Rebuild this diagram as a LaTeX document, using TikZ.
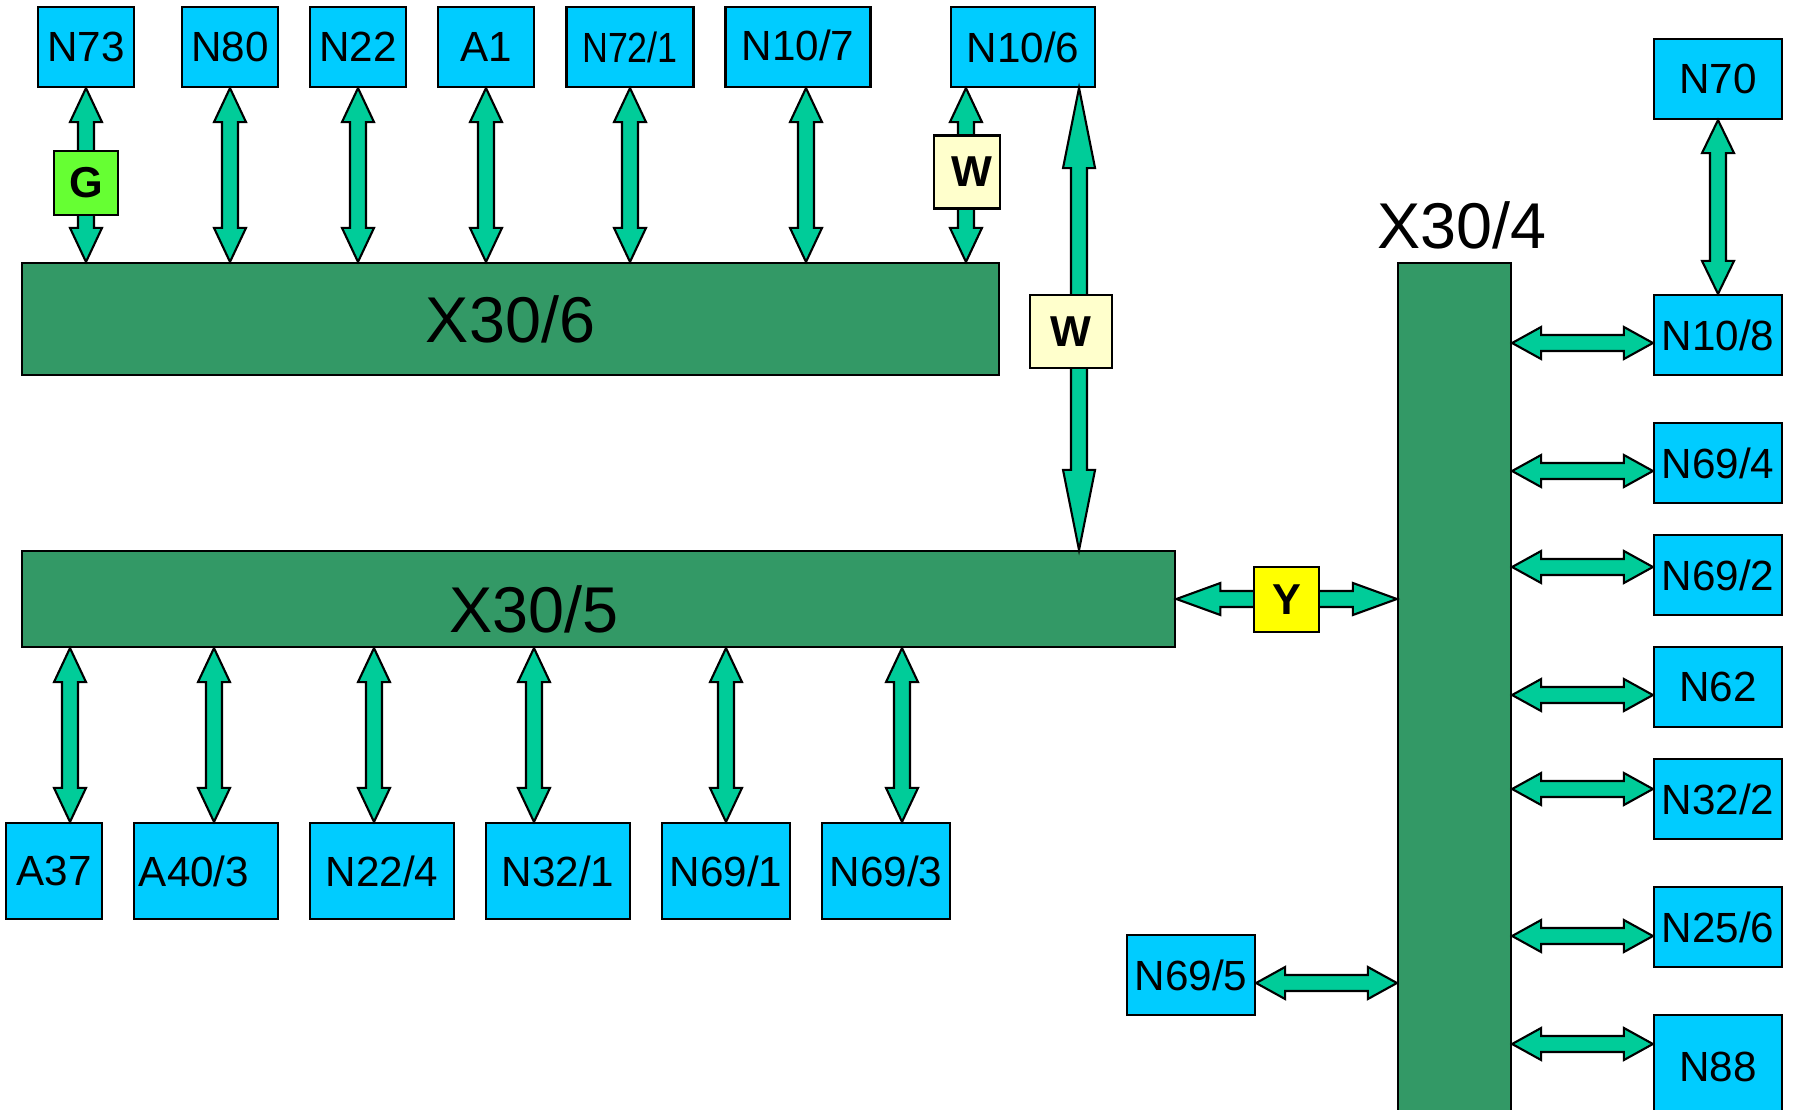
\documentclass[tikz,border=0pt]{standalone}
\usepackage{fontspec}
\usepackage{graphicx}
\setmainfont{Liberation Sans}
\usetikzlibrary{calc}

\definecolor{ecublue}{HTML}{00CCFF}
\definecolor{busgreen}{HTML}{339966}
\definecolor{linkgreen}{HTML}{00CC99}
\definecolor{gwgreen}{HTML}{66FF33}
\definecolor{wpale}{HTML}{FFFFCC}
\definecolor{yyellow}{HTML}{FFFF00}

% fat double arrow between two points, #1 = head length
\newcommand\busarrow[3][0.34cm]{%
  \coordinate (ha) at ($(#2)!#1!(#3)$);
  \coordinate (hb) at ($(#3)!#1!(#2)$);
  \filldraw[link] (#2) -- ($(ha)!0.16cm!90:(#3)$) -- ($(ha)!0.08cm!90:(#3)$)
    -- ($(hb)!0.08cm!-90:(#2)$) -- ($(hb)!0.16cm!-90:(#2)$) -- (#3)
    -- ($(hb)!0.16cm!90:(#2)$) -- ($(hb)!0.08cm!90:(#2)$)
    -- ($(ha)!0.08cm!-90:(#3)$) -- ($(ha)!0.16cm!-90:(#3)$) -- cycle;
}

\begin{document}
\begin{tikzpicture}[
    x=0.01cm, y=-0.01cm,
    ecu/.style={draw, fill=ecublue, line width=0.6pt, minimum height=0.8cm,
      inner sep=0pt, font=\fontsize{12}{14}\selectfont},
    bus/.style={draw, fill=busgreen, line width=0.6pt, inner sep=0pt,
      font=\fontsize{18.4}{21}\selectfont},
    buslabel/.style={inner sep=0pt, font=\fontsize{18.4}{21}\selectfont},
    tag/.style={draw, line width=0.6pt, inner sep=0pt,
      font=\bfseries\fontsize{12.3}{14}\selectfont},
    link/.style={fill=linkgreen, draw=black, line width=0.6pt},
]
  \useasboundingbox (0,0) rectangle (1794,1109);

  % bus bars
  \node[bus, minimum width=9.77cm, minimum height=1.12cm] (x306) at (510.5,319) {X30/6};
  \node[bus, minimum width=11.53cm, minimum height=0.96cm] (x305) at (598.5,599) {};
  \node[buslabel] (x305l) at (534,609) {X30/5};
  \node[bus, minimum width=1.13cm, minimum height=8.57cm] (x304) at (1454.5,691.5) {};
  \node[buslabel] (x304l) at (1462,225) {X30/4};

  % upper row
  \node[ecu, minimum width=0.96cm] (n73) at (86,47) {N73};
  \node[ecu, minimum width=0.96cm] (n80) at (230,47) {N80};
  \node[ecu, minimum width=0.96cm] (n22) at (358,47) {N22};
  \node[ecu, minimum width=0.96cm] (a1) at (486,47) {A1};
  \node[ecu, minimum width=1.27cm] (n721) at (630,47) {\scalebox{0.85}[1]{N72/1}};
  \node[ecu, minimum width=1.45cm] (n107) at (798,47) {\raisebox{0.04cm}{N10/7}};
  \node[ecu, minimum width=1.44cm] (n106) at (1023,47) {N10/6};

  % right column
  \node[ecu, minimum width=1.28cm] (n70) at (1718,79) {N70};
  \node[ecu, minimum width=1.28cm] (n108) at (1718,335) {N10/8};
  \node[ecu, minimum width=1.28cm] (n694) at (1718,463) {N69/4};
  \node[ecu, minimum width=1.28cm] (n692) at (1718,575) {N69/2};
  \node[ecu, minimum width=1.28cm] (n62) at (1718,687) {N62};
  \node[ecu, minimum width=1.28cm] (n322) at (1718,799) {N32/2};
  \node[ecu, minimum width=1.28cm] (n256) at (1718,927) {N25/6};
  \node[ecu, minimum width=1.28cm, minimum height=1.04cm] (n88) at (1718,1067) {N88};

  % lower row
  \node[ecu, minimum width=0.96cm, minimum height=0.96cm] (a37) at (54,871) {A37};
  \node[ecu, minimum width=1.44cm, minimum height=0.96cm] (a403) at (206,871) {\hspace*{-0.24cm}\raisebox{-0.04cm}{A40/3}};
  \node[ecu, minimum width=1.44cm, minimum height=0.96cm] (n224) at (382,871) {N22/4};
  \node[ecu, minimum width=1.44cm, minimum height=0.96cm] (n321) at (558,871) {N32/1};
  \node[ecu, minimum width=1.28cm, minimum height=0.96cm] (n691) at (726,871) {N69/1};
  \node[ecu, minimum width=1.28cm, minimum height=0.96cm] (n693) at (886,871) {N69/3};
  \node[ecu, minimum width=1.28cm] (n695) at (1191,975) {N69/5};

  % links to X30/6
  \busarrow{n73.south}{x306.north -| n73.south}
  \busarrow{n80.south}{x306.north -| n80.south}
  \busarrow{n22.south}{x306.north -| n22.south}
  \busarrow{a1.south}{x306.north -| a1.south}
  \busarrow{n721.south}{x306.north -| n721.south}
  \coordinate (t107) at ([xshift=0.08cm]n107.south);
  \busarrow{t107}{x306.north -| t107}
  \coordinate (t106) at ([xshift=-0.57cm]n106.south);
  \busarrow{t106}{x306.north -| t106}

  % N10/6 down to X30/5
  \coordinate (g106) at ([xshift=0.56cm]n106.south);
  \busarrow[0.8cm]{g106}{x305.north -| g106}

  % links below X30/5
  \coordinate (b1) at ([xshift=0.16cm]a37.north);
  \busarrow{x305.south -| b1}{b1}
  \coordinate (b2) at ([xshift=0.08cm]a403.north);
  \busarrow{x305.south -| b2}{b2}
  \coordinate (b3) at ([xshift=-0.08cm]n224.north);
  \busarrow{x305.south -| b3}{b3}
  \coordinate (b4) at ([xshift=-0.24cm]n321.north);
  \busarrow{x305.south -| b4}{b4}
  \busarrow{x305.south -| n691.north}{n691.north}
  \coordinate (b6) at ([xshift=0.16cm]n693.north);
  \busarrow{x305.south -| b6}{b6}

  % X30/5 to X30/4
  \busarrow[0.44cm]{x305.east}{x304.west |- x305.east}
  \coordinate (l1) at ([yshift=-0.08cm]n695.east);
  \busarrow[0.29cm]{l1}{x304.west |- l1}

  % links right of X30/4
  \busarrow[0.33cm]{n70.south}{n108.north}
  \coordinate (r1) at ([yshift=-0.08cm]n108.west);
  \busarrow[0.29cm]{x304.east |- r1}{r1}
  \coordinate (r2) at ([yshift=-0.08cm]n694.west);
  \busarrow[0.29cm]{x304.east |- r2}{r2}
  \coordinate (r3) at ([yshift=0.08cm]n692.west);
  \busarrow[0.29cm]{x304.east |- r3}{r3}
  \coordinate (r4) at ([yshift=-0.08cm]n62.west);
  \busarrow[0.29cm]{x304.east |- r4}{r4}
  \coordinate (r5) at ([yshift=0.1cm]n322.west);
  \busarrow[0.29cm]{x304.east |- r5}{r5}
  \coordinate (r6) at ([yshift=-0.09cm]n256.west);
  \busarrow[0.29cm]{x304.east |- r6}{r6}
  \coordinate (r7) at ([yshift=0.23cm]n88.west);
  \busarrow[0.29cm]{x304.east |- r7}{r7}

  % tags on the links
  \node[tag, fill=gwgreen, minimum width=0.64cm, minimum height=0.64cm] (g) at (86,183) {G};
  \node[tag, fill=wpale, minimum width=0.66cm, minimum height=0.73cm] (w1) at (967,172) {\hspace*{0.1cm}W};
  \node[tag, fill=wpale, minimum width=0.82cm, minimum height=0.73cm] (w2) at (1071,331.5) {W};
  \node[tag, fill=yyellow, minimum width=0.65cm, minimum height=0.65cm] (y) at (1286.5,599.5) {Y};

\end{tikzpicture}
\end{document}
